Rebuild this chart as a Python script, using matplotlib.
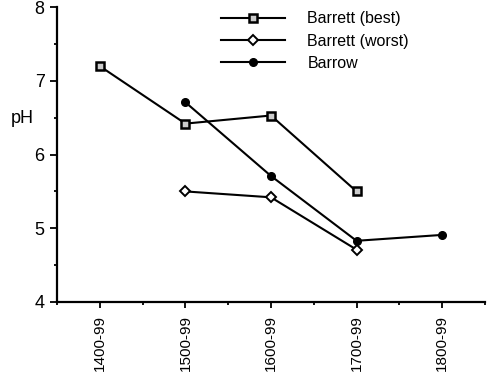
import matplotlib
matplotlib.use('Agg')
import matplotlib.pyplot as plt
from matplotlib.ticker import MultipleLocator

plt.rcParams['font.family'] = ['Liberation Sans', 'DejaVu Sans']

# --- data ---
periods = ['1400-99', '1500-99', '1600-99', '1700-99', '1800-99']
best_x = [0, 1, 2, 3]
best_ph = [7.2, 6.42, 6.53, 5.5]
worst_x = [1, 2, 3]
worst_ph = [5.5, 5.42, 4.71]
barrow_x = [1, 2, 3, 4]
barrow_ph = [6.71, 5.71, 4.83, 4.91]

fig = plt.figure(figsize=(4.89, 3.77), dpi=100)
ax = fig.add_axes([0.1166, 0.199, 0.875, 0.782])

ax.plot(best_x, best_ph, color='black', lw=1.5, marker='s', ms=5.5,
        mfc='#cccccc', mec='black', mew=1.8, label='Barrett (best)')
ax.plot(worst_x, worst_ph, color='black', lw=1.5, marker='D', ms=5,
        mfc='white', mec='black', mew=1.4, label='Barrett (worst)')
ax.plot(barrow_x, barrow_ph, color='black', lw=1.5, marker='o', ms=5.5,
        mfc='black', mec='black', label='Barrow')

ax.set_xlim(-0.5, 4.5)
ax.set_ylim(4, 8)
ax.set_xticks(range(len(periods)))
ax.set_xticklabels(periods, rotation=90, fontsize=11)
ax.xaxis.set_minor_locator(MultipleLocator(1, offset=0.5))
ax.yaxis.set_major_locator(MultipleLocator(1))
ax.yaxis.set_minor_locator(MultipleLocator(0.5))
ax.tick_params(axis='both', which='both', direction='out', width=1.3,
               color='black')
ax.tick_params(axis='y', which='major', labelsize=13, length=5, pad=4)
ax.tick_params(axis='x', which='major', length=4.5, pad=5)
ax.tick_params(axis='both', which='minor', length=2.5)

for side in ['top', 'right']:
    ax.spines[side].set_visible(False)
for side in ['left', 'bottom']:
    ax.spines[side].set_linewidth(1.6)

ax.set_ylabel('pH', fontsize=13, rotation=0)
ax.yaxis.set_label_coords(-0.082, 0.595)

ax.legend(loc='upper left', bbox_to_anchor=(0.423, 1.008),
          bbox_transform=fig.transFigure, frameon=False, fontsize=11.5,
          handlelength=4.0, handletextpad=1.4, labelspacing=0.45,
          borderpad=0.4, numpoints=1)

fig.savefig('out.png', dpi=100)
